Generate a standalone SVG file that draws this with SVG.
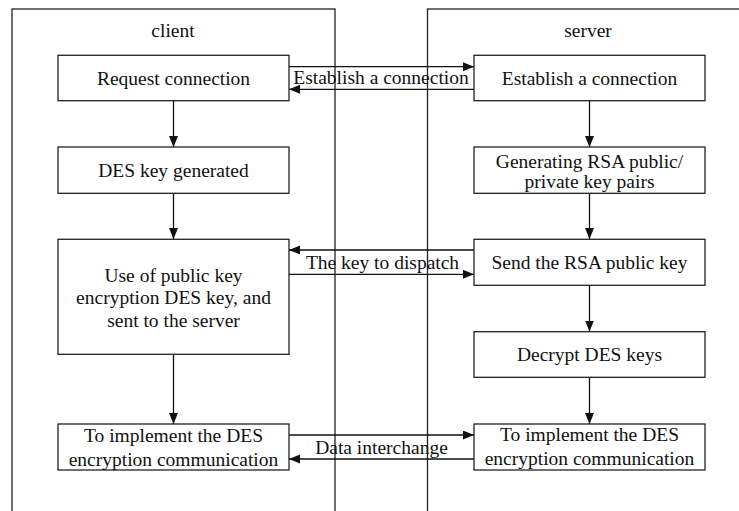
<svg xmlns="http://www.w3.org/2000/svg" width="739" height="511" viewBox="0 0 739 511" font-family="'Liberation Serif', 'DejaVu Serif', serif">
<style>
.lane{fill:none;stroke:#222;stroke-width:1.3}
.box{fill:#fff;stroke:#222;stroke-width:1.3}
.t{font-size:19.5px;fill:#111;text-anchor:middle}
.c{stroke:#111;stroke-width:1.3;fill:none;marker-end:url(#ah)}
</style>
<defs>
<marker id="ah" markerUnits="userSpaceOnUse" markerWidth="12" markerHeight="10" refX="11" refY="4.5" orient="auto">
<path d="M0,0 L11,4.5 L0,9 z" fill="#111"/>
</marker>
</defs>
<g id="lane-client">
<rect class="lane" x="12" y="9" width="323" height="530"/>
<text class="t" x="173" y="37" font-family="Liberation Serif">client</text>
</g>
<g id="lane-server">
<rect class="lane" x="427.5" y="9" width="340" height="530"/>
<text class="t" x="588" y="37" font-family="Liberation Serif">server</text>
</g>
<g id="connectors" font-family="Liberation Serif">
<line class="c" x1="173.5" y1="101" x2="173.5" y2="147"/>
<line class="c" x1="173.5" y1="193" x2="173.5" y2="239"/>
<line class="c" x1="173.5" y1="354" x2="173.5" y2="424"/>
<line class="c" x1="589.5" y1="101" x2="589.5" y2="147"/>
<line class="c" x1="589.5" y1="193" x2="589.5" y2="239"/>
<line class="c" x1="589.5" y1="285" x2="589.5" y2="331.5"/>
<line class="c" x1="589.5" y1="377" x2="589.5" y2="424"/>
<line class="c" x1="289" y1="66.7" x2="474" y2="66.7"/>
<line class="c" x1="474" y1="89.3" x2="289" y2="89.3"/>
<line class="c" x1="474" y1="250" x2="289" y2="250"/>
<line class="c" x1="289" y1="274.3" x2="474" y2="274.3"/>
<line class="c" x1="289" y1="435" x2="474" y2="435"/>
<line class="c" x1="474" y1="459" x2="289" y2="459"/>
<text class="t" x="381" y="84">Establish a connection</text>
<text class="t" x="382.5" y="268.5">The key to dispatch</text>
<text class="t" x="381.5" y="454">Data interchange</text>
</g>
<g id="request-connection" font-family="Liberation Serif">
<rect class="box" x="58" y="55.3" width="231" height="45.4"/>
<text class="t" x="173.5" y="85">Request connection</text>
</g>
<g id="des-key-generated" font-family="Liberation Serif">
<rect class="box" x="58" y="147" width="231" height="46.3"/>
<text class="t" x="173.5" y="177">DES key generated</text>
</g>
<g id="use-public-key" font-family="Liberation Serif">
<rect class="box" x="58" y="239.3" width="231" height="115"/>
<text class="t" x="173.5" y="281.7">Use of public key</text>
<text class="t" x="173.5" y="304">encryption DES key, and</text>
<text class="t" x="173.5" y="326.7">sent to the server</text>
</g>
<g id="client-des-comm" font-family="Liberation Serif">
<rect class="box" x="58" y="424" width="231" height="46"/>
<text class="t" x="173.5" y="441.5">To implement the DES</text>
<text class="t" x="173.5" y="465.5">encryption communication</text>
</g>
<g id="establish-connection" font-family="Liberation Serif">
<rect class="box" x="474" y="55.3" width="231" height="45.4"/>
<text class="t" x="589.5" y="84.5">Establish a connection</text>
</g>
<g id="generating-rsa" font-family="Liberation Serif">
<rect class="box" x="474" y="147" width="231" height="46.3"/>
<text class="t" x="589.5" y="167.5">Generating RSA public/</text>
<text class="t" x="589.5" y="187.5">private key pairs</text>
</g>
<g id="send-rsa" font-family="Liberation Serif">
<rect class="box" x="474" y="239.3" width="231" height="46"/>
<text class="t" x="589.5" y="269">Send the RSA public key</text>
</g>
<g id="decrypt-des" font-family="Liberation Serif">
<rect class="box" x="474" y="331.7" width="231" height="45.6"/>
<text class="t" x="589.5" y="361">Decrypt DES keys</text>
</g>
<g id="server-des-comm" font-family="Liberation Serif">
<rect class="box" x="474" y="424" width="231" height="46"/>
<text class="t" x="589.5" y="441">To implement the DES</text>
<text class="t" x="589.5" y="465">encryption communication</text>
</g>
</svg>
